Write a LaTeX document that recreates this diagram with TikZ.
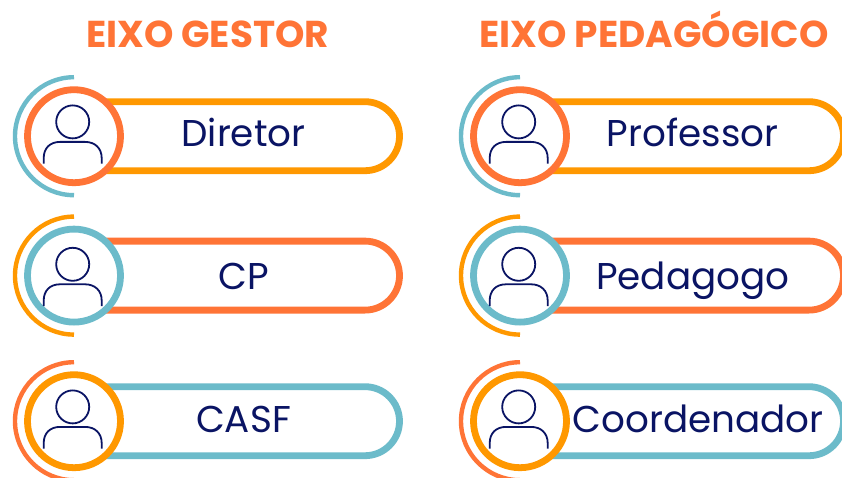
\documentclass[tikz,border=0pt]{standalone}
\usepackage{fontspec}
\setmainfont{Poppins}
\definecolor{cOrange}{HTML}{FF9800}
\definecolor{cCoral}{HTML}{FF7436}
\definecolor{cTeal}{HTML}{6CBBCA}
\definecolor{cNavy}{HTML}{0A1464}
\tikzset{
  x=1pt,y=-1pt,
  titletext/.style={font=\fontsize{37.4}{44}\selectfont\bfseries,text=cCoral,inner sep=0pt,anchor=base},
  cardtext/.style={font=\fontsize{37.3}{44}\selectfont,text=cNavy,inner sep=0pt,anchor=base},
  ring/.style={circle,draw=#1,line width=6.8pt,fill=white,minimum size=93pt,inner sep=0pt},
  iconline/.style={draw=cNavy,line width=1.8pt},
}
% #1 name, #2 cx, #3 cy, #4 right end, #5 arc colour, #6 ring colour, #7 bar colour, #8 icon y offset
\newcommand{\cardrow}[8]{%
  \draw[#7,line width=6.8pt,fill=white,rounded corners=34.5pt]
     (#2,#3-34.5) -- (#4,#3-34.5) -- (#4,#3+34.5) -- (#2,#3+34.5);
  \draw[#5,line width=4.4pt] (#2,#3-59) arc[start angle=90,end angle=270,radius=59pt];
  \node[ring=#6] (#1c) at (#2,#3) {};
  \draw[iconline] (#2-1.3,#3+#8-14.3) circle[radius=16.5pt];
  \draw[iconline] (#2-30.3,#3+#8+27.5) -- (#2-30.3,#3+#8+22)
     .. controls (#2-30.3,#3+#8+12) and (#2-24,#3+#8+5.7) .. (#2-14,#3+#8+5.7)
     -- (#2+11,#3+#8+5.7)
     .. controls (#2+21,#3+#8+5.7) and (#2+27.7,#3+#8+12) .. (#2+27.7,#3+#8+22) -- (#2+27.7,#3+#8+27.5);
}
\begin{document}
\begin{tikzpicture}
\useasboundingbox (0,0) rectangle (842,478);
\fill[white] (0,0) rectangle (842,478);
\node[titletext] (tg) at (207.5,48) {EIXO GESTOR};
\node[titletext] (tp) at (654,48) {EIXO PEDAGÓGICO};
\cardrow{a}{74}{136.2}{399.5}{cTeal}{cCoral}{cOrange}{0}
\node[cardtext] (at) at (243.5,147) {Diretor};
\cardrow{b}{74}{275.6}{399.5}{cOrange}{cTeal}{cCoral}{3}
\node[cardtext] (bt) at (243.5,289) {CP};
\cardrow{c}{74}{421.2}{399.5}{cCoral}{cOrange}{cTeal}{0}
\node[cardtext] (ct) at (243.5,432) {CASF};
\cardrow{d}{520}{136.2}{843.5}{cTeal}{cCoral}{cOrange}{0}
\node[cardtext] (dt) at (692.5,147) {Professor};
\cardrow{e}{520}{275.6}{843.5}{cOrange}{cTeal}{cCoral}{3}
\node[cardtext] (et) at (692.8,289) {Pedagogo};
\cardrow{f}{520}{421.2}{843.5}{cCoral}{cOrange}{cTeal}{0}
\node[cardtext] (ft) at (698,432) {Coordenador};
\end{tikzpicture}
\end{document}
